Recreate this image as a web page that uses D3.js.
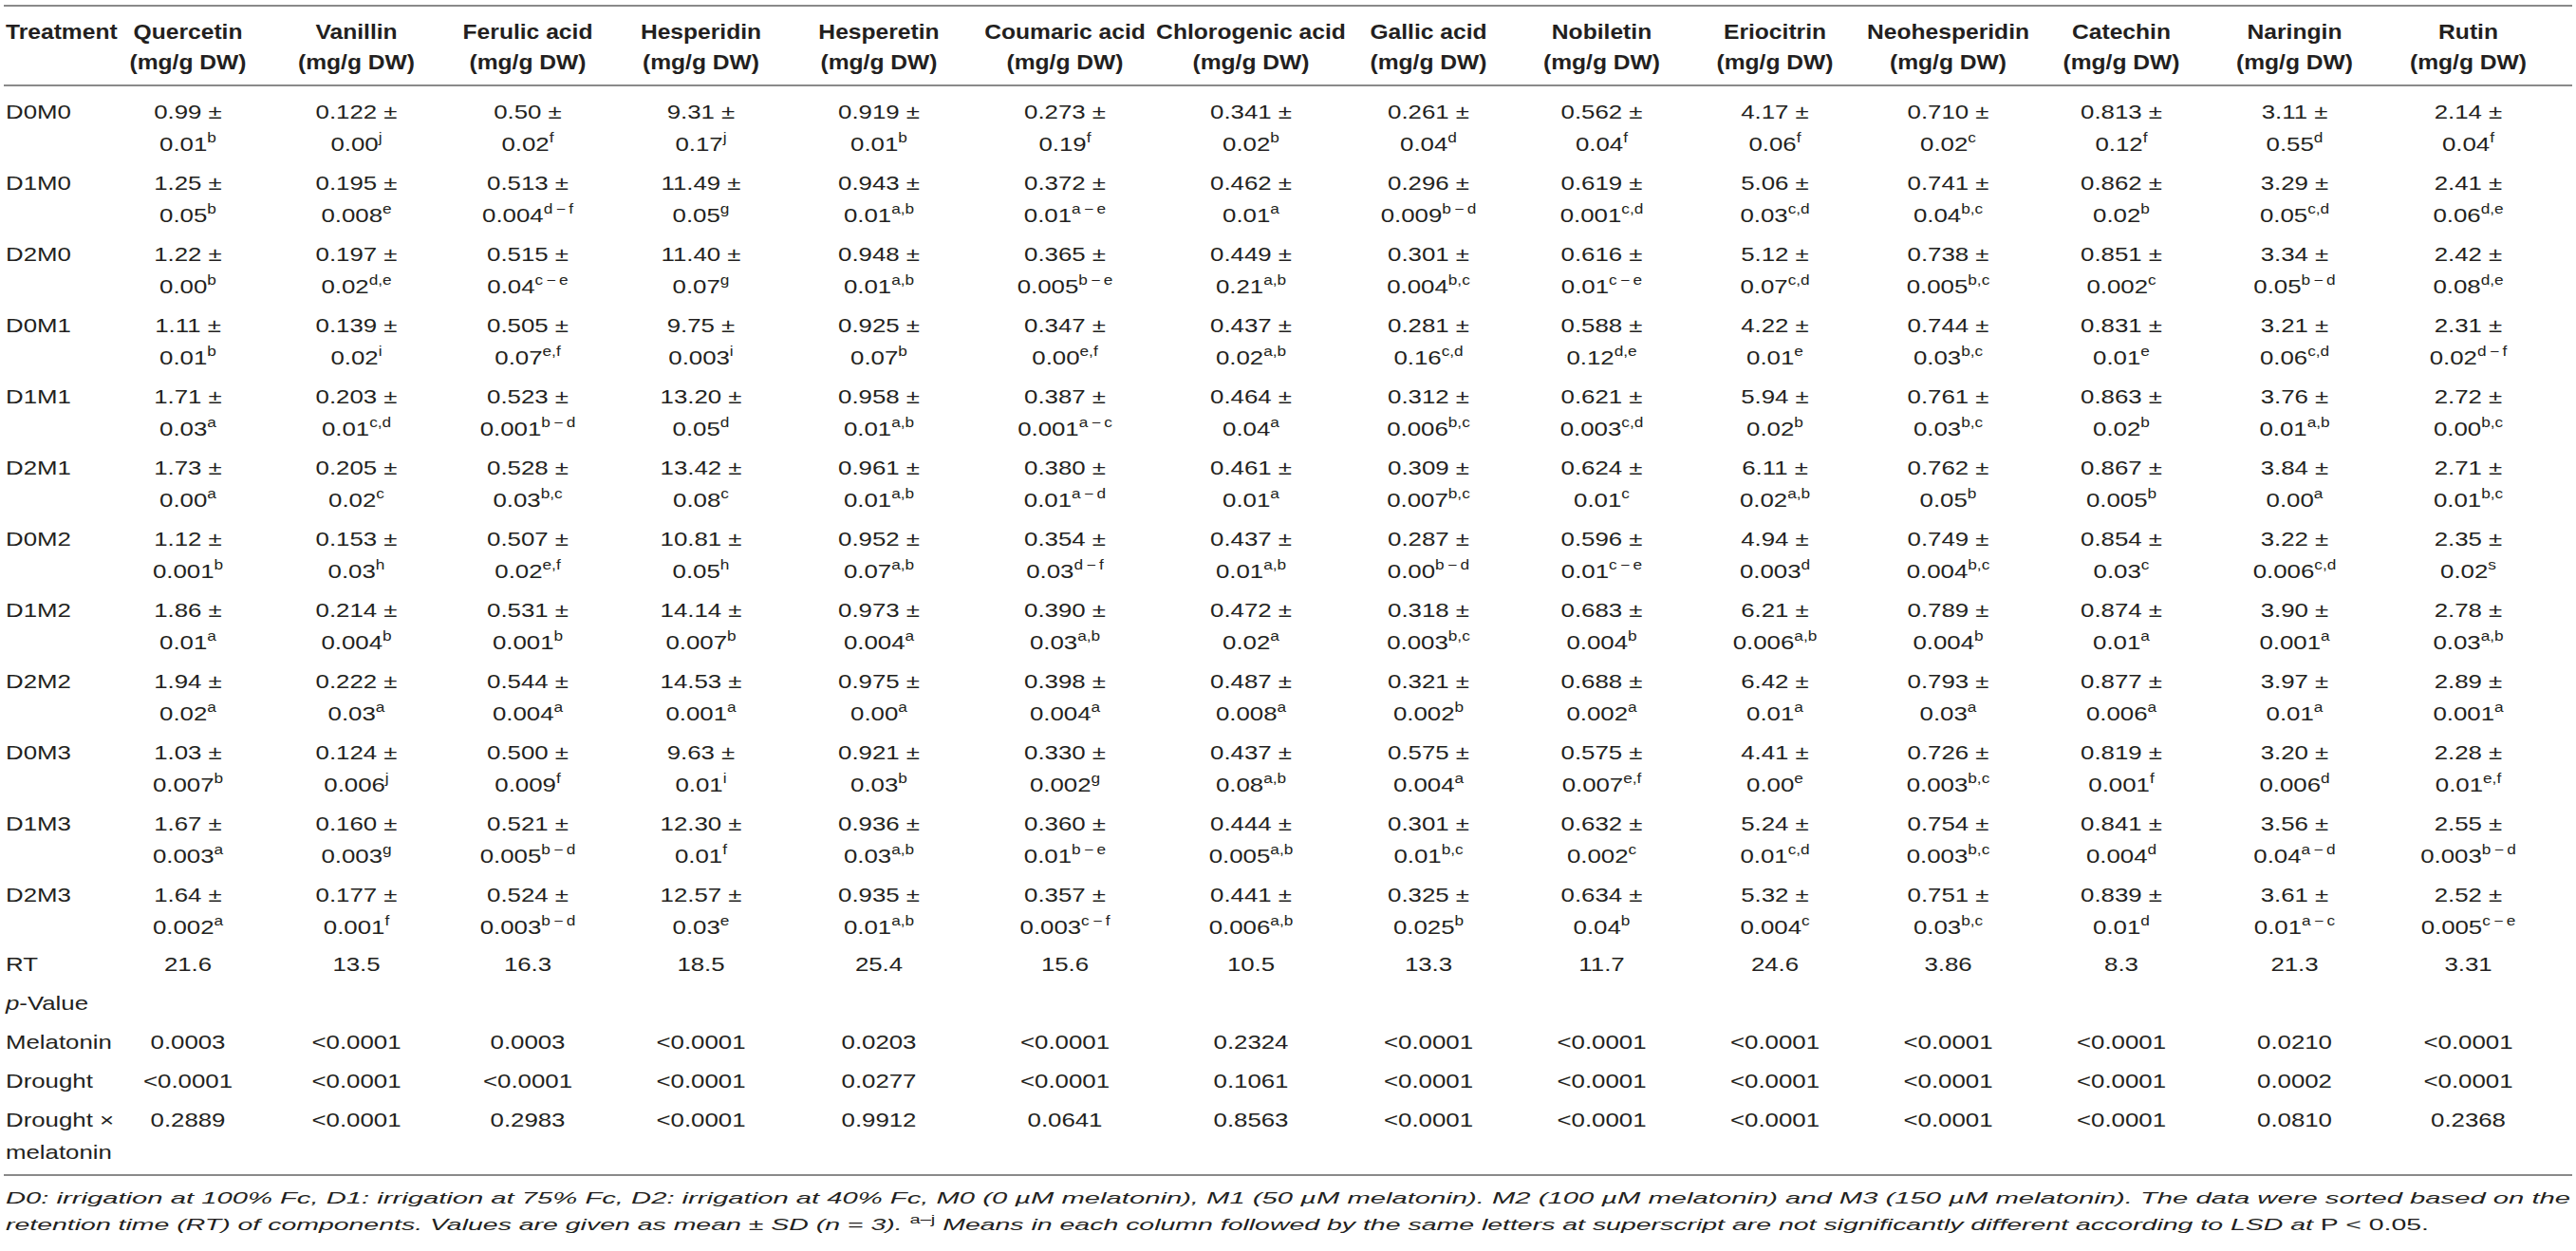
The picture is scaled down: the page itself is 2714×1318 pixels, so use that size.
<!DOCTYPE html>
<html>
<head>
<meta charset="utf-8">
<script src="https://cdn.jsdelivr.net/npm/d3@7"></script>
<style>
  body { margin: 0; background: #fff; }
  svg { display: block; background: #fff; }
  text { font-family: "Liberation Sans", Arial, sans-serif; fill: #231f20; }
</style>
</head>
<body>
<svg id="table" width="2714" height="1318"></svg>
<script>
// rows and columns of the table
const treatments = ["D0M0", "D1M0", "D2M0", "D0M1", "D1M1", "D2M1", "D0M2", "D1M2", "D2M2", "D0M3", "D1M3", "D2M3"];
const compounds = ["Quercetin", "Vanillin", "Ferulic acid", "Hesperidin", "Hesperetin", "Coumaric acid",
  "Chlorogenic acid", "Gallic acid", "Nobiletin", "Eriocitrin", "Neohesperidin", "Catechin", "Naringin", "Rutin"];
const unit = "(mg/g DW)";

// [mean, sd, letters] per treatment, in the order of `treatments`
const quercetin = [["0.99","0.01","b"],["1.25","0.05","b"],["1.22","0.00","b"],["1.11","0.01","b"],["1.71","0.03","a"],["1.73","0.00","a"],
  ["1.12","0.001","b"],["1.86","0.01","a"],["1.94","0.02","a"],["1.03","0.007","b"],["1.67","0.003","a"],["1.64","0.002","a"]];
const vanillin = [["0.122","0.00","j"],["0.195","0.008","e"],["0.197","0.02","d,e"],["0.139","0.02","i"],["0.203","0.01","c,d"],["0.205","0.02","c"],
  ["0.153","0.03","h"],["0.214","0.004","b"],["0.222","0.03","a"],["0.124","0.006","j"],["0.160","0.003","g"],["0.177","0.001","f"]];
const ferulicAcid = [["0.50","0.02","f"],["0.513","0.004","d-f"],["0.515","0.04","c-e"],["0.505","0.07","e,f"],["0.523","0.001","b-d"],["0.528","0.03","b,c"],
  ["0.507","0.02","e,f"],["0.531","0.001","b"],["0.544","0.004","a"],["0.500","0.009","f"],["0.521","0.005","b-d"],["0.524","0.003","b-d"]];
const hesperidin = [["9.31","0.17","j"],["11.49","0.05","g"],["11.40","0.07","g"],["9.75","0.003","i"],["13.20","0.05","d"],["13.42","0.08","c"],
  ["10.81","0.05","h"],["14.14","0.007","b"],["14.53","0.001","a"],["9.63","0.01","i"],["12.30","0.01","f"],["12.57","0.03","e"]];
const hesperetin = [["0.919","0.01","b"],["0.943","0.01","a,b"],["0.948","0.01","a,b"],["0.925","0.07","b"],["0.958","0.01","a,b"],["0.961","0.01","a,b"],
  ["0.952","0.07","a,b"],["0.973","0.004","a"],["0.975","0.00","a"],["0.921","0.03","b"],["0.936","0.03","a,b"],["0.935","0.01","a,b"]];
const coumaricAcid = [["0.273","0.19","f"],["0.372","0.01","a-e"],["0.365","0.005","b-e"],["0.347","0.00","e,f"],["0.387","0.001","a-c"],["0.380","0.01","a-d"],
  ["0.354","0.03","d-f"],["0.390","0.03","a,b"],["0.398","0.004","a"],["0.330","0.002","g"],["0.360","0.01","b-e"],["0.357","0.003","c-f"]];
const chlorogenicAcid = [["0.341","0.02","b"],["0.462","0.01","a"],["0.449","0.21","a,b"],["0.437","0.02","a,b"],["0.464","0.04","a"],["0.461","0.01","a"],
  ["0.437","0.01","a,b"],["0.472","0.02","a"],["0.487","0.008","a"],["0.437","0.08","a,b"],["0.444","0.005","a,b"],["0.441","0.006","a,b"]];
const gallicAcid = [["0.261","0.04","d"],["0.296","0.009","b-d"],["0.301","0.004","b,c"],["0.281","0.16","c,d"],["0.312","0.006","b,c"],["0.309","0.007","b,c"],
  ["0.287","0.00","b-d"],["0.318","0.003","b,c"],["0.321","0.002","b"],["0.575","0.004","a"],["0.301","0.01","b,c"],["0.325","0.025","b"]];
const nobiletin = [["0.562","0.04","f"],["0.619","0.001","c,d"],["0.616","0.01","c-e"],["0.588","0.12","d,e"],["0.621","0.003","c,d"],["0.624","0.01","c"],
  ["0.596","0.01","c-e"],["0.683","0.004","b"],["0.688","0.002","a"],["0.575","0.007","e,f"],["0.632","0.002","c"],["0.634","0.04","b"]];
const eriocitrin = [["4.17","0.06","f"],["5.06","0.03","c,d"],["5.12","0.07","c,d"],["4.22","0.01","e"],["5.94","0.02","b"],["6.11","0.02","a,b"],
  ["4.94","0.003","d"],["6.21","0.006","a,b"],["6.42","0.01","a"],["4.41","0.00","e"],["5.24","0.01","c,d"],["5.32","0.004","c"]];
const neohesperidin = [["0.710","0.02","c"],["0.741","0.04","b,c"],["0.738","0.005","b,c"],["0.744","0.03","b,c"],["0.761","0.03","b,c"],["0.762","0.05","b"],
  ["0.749","0.004","b,c"],["0.789","0.004","b"],["0.793","0.03","a"],["0.726","0.003","b,c"],["0.754","0.003","b,c"],["0.751","0.03","b,c"]];
const catechin = [["0.813","0.12","f"],["0.862","0.02","b"],["0.851","0.002","c"],["0.831","0.01","e"],["0.863","0.02","b"],["0.867","0.005","b"],
  ["0.854","0.03","c"],["0.874","0.01","a"],["0.877","0.006","a"],["0.819","0.001","f"],["0.841","0.004","d"],["0.839","0.01","d"]];
const naringin = [["3.11","0.55","d"],["3.29","0.05","c,d"],["3.34","0.05","b-d"],["3.21","0.06","c,d"],["3.76","0.01","a,b"],["3.84","0.00","a"],
  ["3.22","0.006","c,d"],["3.90","0.001","a"],["3.97","0.01","a"],["3.20","0.006","d"],["3.56","0.04","a-d"],["3.61","0.01","a-c"]];
const rutin = [["2.14","0.04","f"],["2.41","0.06","d,e"],["2.42","0.08","d,e"],["2.31","0.02","d-f"],["2.72","0.00","b,c"],["2.71","0.01","b,c"],
  ["2.35","0.02","s"],["2.78","0.03","a,b"],["2.89","0.001","a"],["2.28","0.01","e,f"],["2.55","0.003","b-d"],["2.52","0.005","c-e"]];

const retentionTime = ["21.6", "13.5", "16.3", "18.5", "25.4", "15.6", "10.5", "13.3", "11.7", "24.6", "3.86", "8.3", "21.3", "3.31"];
const pMelatonin = ["0.0003", "<0.0001", "0.0003", "<0.0001", "0.0203", "<0.0001", "0.2324", "<0.0001", "<0.0001", "<0.0001", "<0.0001", "<0.0001", "0.0210", "<0.0001"];
const pDrought = ["<0.0001", "<0.0001", "<0.0001", "<0.0001", "0.0277", "<0.0001", "0.1061", "<0.0001", "<0.0001", "<0.0001", "<0.0001", "<0.0001", "0.0002", "<0.0001"];
const pInteraction = ["0.2889", "<0.0001", "0.2983", "<0.0001", "0.9912", "0.0641", "0.8563", "<0.0001", "<0.0001", "<0.0001", "<0.0001", "<0.0001", "0.0810", "0.2368"];

const columns = [quercetin, vanillin, ferulicAcid, hesperidin, hesperetin, coumaricAcid, chlorogenicAcid,
  gallicAcid, nobiletin, eriocitrin, neohesperidin, catechin, naringin, rutin];
const statRows = ["RT", "p-Value", "Melatonin", "Drought", "Drought × melatonin"];
const statValues = { "RT": retentionTime, "Melatonin": pMelatonin, "Drought": pDrought, "Drought × melatonin": pInteraction };

// layout
const svg = d3.select("#table");
const bodyK = 1.23, headK = 1.12;   // the source face is wider than Liberation Sans
const colWidths = [176, 179, 182, 183, 192, 200, 192, 182, 183, 182, 183, 182, 183, 183];
let acc = 110;
const centers = colWidths.map(w => { const c = acc + w / 2; acc += w; return c; });
const x = d3.scaleOrdinal(compounds, centers);
const y = d3.scalePoint(treatments, [125, 950]);
const yStat = d3.scalePoint(statRows, [1023, 1187]);
const lineGap = 34;

function label(px, py, anchor, k, size, weight) {
  return svg.append("text")
    .attr("transform", `translate(${px},${py}) scale(${k},1)`)
    .attr("text-anchor", anchor)
    .attr("font-size", size)
    .attr("font-weight", weight || "normal");
}

function sup(t, letters) {
  t.append("tspan")
    .attr("font-size", 14)
    .attr("dy", -9)
    .text(letters.replace("-", "\u2009\u2212\u2009"));
}

// rules
svg.selectAll("line.rule")
  .data([6, 90, 1238])
  .join("line")
  .attr("class", "rule")
  .attr("x1", 4).attr("x2", 2710)
  .attr("y1", d => d).attr("y2", d => d)
  .attr("stroke", "#8a8a8a")
  .attr("stroke-width", 2);

// header
label(6, 41, "start", headK, 22, "bold").text("Treatment");
compounds.forEach(c => {
  label(x(c), 41, "middle", headK, 22, "bold").text(c);
  label(x(c), 73, "middle", headK, 22, "bold").text(unit);
});

// treatment rows
treatments.forEach((t, j) => {
  label(6, y(t), "start", bodyK, 21).text(t);
  compounds.forEach((c, i) => {
    const [mean, sd, letters] = columns[i][j];
    label(x(c), y(t), "middle", bodyK, 21).text(`${mean} \u00b1`);
    const t2 = label(x(c), y(t) + lineGap, "middle", bodyK, 21).text(sd);
    sup(t2, letters);
  });
});

// retention time and p-values
statRows.forEach(r => {
  if (r === "p-Value") {
    const t = label(6, yStat(r), "start", bodyK, 21);
    t.append("tspan").attr("font-style", "italic").text("p");
    t.append("tspan").text("-Value");
    return;
  }
  if (r === "Drought × melatonin") {
    label(6, yStat(r), "start", bodyK, 21).text("Drought \u00d7");
    label(6, yStat(r) + lineGap, "start", bodyK, 21).text("melatonin");
  } else {
    label(6, yStat(r), "start", bodyK, 21).text(r);
  }
  compounds.forEach((c, i) => {
    label(x(c), yStat(r), "middle", bodyK, 21).text(statValues[r][i]);
  });
});

// footnote
const fn1 = svg.append("text")
  .attr("x", 6).attr("y", 1268)
  .attr("font-size", 17).attr("font-style", "italic")
  .attr("textLength", 2702).attr("lengthAdjust", "spacingAndGlyphs")
  .text("D0: irrigation at 100% Fc, D1: irrigation at 75% Fc, D2: irrigation at 40% Fc, M0 (0 \u00b5M melatonin), M1 (50 \u00b5M melatonin). M2 (100 \u00b5M melatonin) and M3 (150 \u00b5M melatonin). The data were sorted based on the");

const fn2 = svg.append("text")
  .attr("x", 6).attr("y", 1296)
  .attr("font-size", 17).attr("font-style", "italic")
  .attr("textLength", 2553).attr("lengthAdjust", "spacingAndGlyphs");
fn2.append("tspan").text("retention time (RT) of components. Values are given as mean \u00b1 SD (n = 3). ");
fn2.append("tspan").attr("font-style", "normal").attr("font-size", 12).attr("dy", -7).text("a\u2013j");
fn2.append("tspan").attr("dy", 7).text(" Means in each column followed by the same letters at superscript are not significantly different according to LSD at ");
fn2.append("tspan").attr("font-style", "normal").text("P < 0.05.");
</script>
</body>
</html>
